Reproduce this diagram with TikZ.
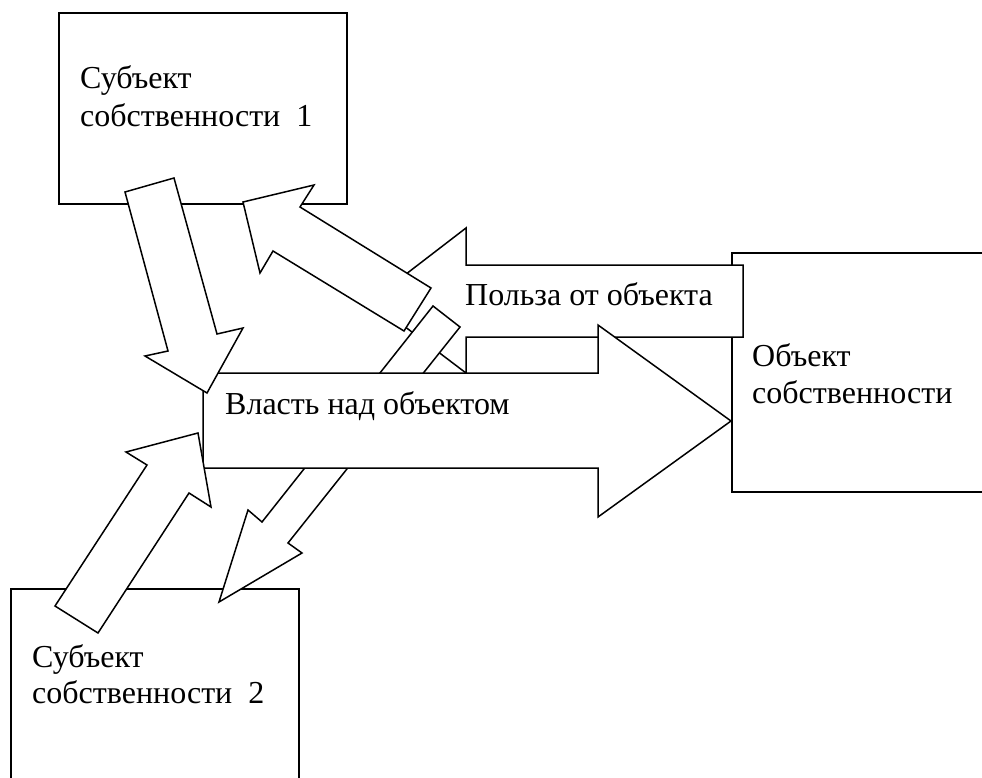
\documentclass[tikz,border=0pt]{standalone}
\usepackage{fontspec}
\setmainfont{Liberation Serif}
\begin{document}
\begin{tikzpicture}[x=1pt,y=-1pt,
  box/.style={draw,line width=1.5pt,fill=white,anchor=north west,inner sep=0pt,outer sep=0pt},
  blockarrow/.style={draw,line width=1.5pt,fill=white,line join=miter},
  lbl/.style={anchor=base west,inner sep=0pt,font=\fontsize{32}{37}\selectfont}]
\useasboundingbox (0,0) rectangle (982,778);
\begin{scope}
\clip (0,0) rectangle (982,778);
% boxes
\node[box,minimum width=288pt,minimum height=191pt] (s1) at (59,13) {};
\node[box,minimum width=288pt,minimum height=230pt] (s2) at (11,589) {};
\node[box,minimum width=300pt,minimum height=239pt] (obj) at (732,253) {};
% Польза от объекта (left-pointing)
\draw[blockarrow] (743,265) -- (466,265) -- (466,228) -- (371,301) -- (466,373) -- (466,337) -- (743,337) -- cycle;
% arrow from Власть to subject 2
\draw[blockarrow] (433,306) -- (460,327) -- (288,543) -- (302,553) -- (219,602) -- (248,510) -- (262,522) -- cycle;
% arrow from Польза to subject 1
\draw[blockarrow] (243,202) -- (314,185) -- (300,207) -- (431,288) -- (404,331) -- (273,251) -- (260,273) -- cycle;
% Власть над объектом (right-pointing)
\draw[blockarrow] (203,373) -- (598,373) -- (598,325) -- (731,421) -- (598,517) -- (598,468) -- (203,468) -- cycle;
% arrow from subject 1 to Власть
\draw[blockarrow] (125,192) -- (174,178) -- (217,334) -- (243,328) -- (207,393) -- (145,356) -- (168,351) -- cycle;
% arrow from subject 2 to Власть
\draw[blockarrow] (55,606) -- (98,633) -- (189,493) -- (211,507) -- (198,433) -- (126,452) -- (147,465) -- cycle;
\end{scope}
% texts
\node[lbl] (t1a) at (80,89) {Субъект};
\node[lbl] (t1b) at (80,127) {собственности\ \ 1};
\node[lbl] (t2a) at (32,667) {Субъект};
\node[lbl] (t2b) at (32,703) {собственности\ \ 2};
\node[lbl] (t3a) at (752,366) {Объект};
\node[lbl] (t3b) at (752,403) {собственности};
\node[lbl] (tv) at (225,414) {Власть над объектом};
\node[lbl] (tp) at (465,305) {Польза от объекта};
\end{tikzpicture}
\end{document}
